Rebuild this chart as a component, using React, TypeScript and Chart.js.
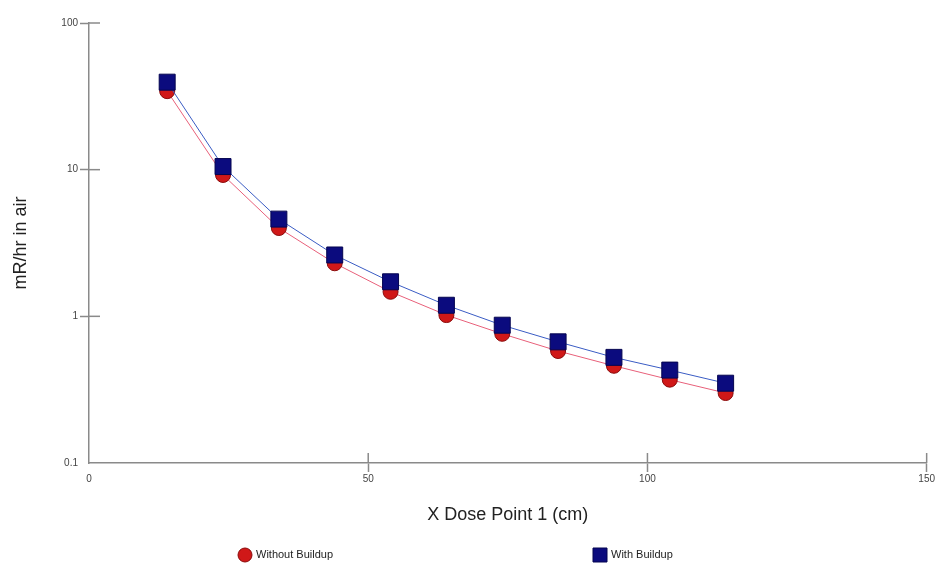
import React, { useEffect, useRef } from "react";
import { Chart, registerables } from "chart.js";

Chart.register(...registerables);

// ---- Data ----
const xPositions = [14, 24, 34, 44, 54, 64, 74, 84, 94, 104, 114];
const withoutBuildup = [34.3, 9.2, 4.0, 2.3, 1.47, 1.02, 0.76, 0.58, 0.46, 0.37, 0.3];
const withBuildup = [39.5, 10.5, 4.6, 2.62, 1.72, 1.19, 0.87, 0.67, 0.525, 0.43, 0.35];
const seriesLabels = ["Without Buildup", "With Buildup"];
const xTickValues = [0, 50, 100, 150];
const yTickValues = [0.1, 1, 10, 100];
const xTitle = "X Dose Point 1 (cm)";
const yTitle = "mR/hr in air";

// ---- Styles ----
const FONT = "'Liberation Sans', Arial, sans-serif";
const AXIS_COLOR = "#8a8a8a";
const RED_FILL = "#d01818";
const RED_EDGE = "#8a0a0a";
const RED_LINE = "#e8607a";
const BLUE_FILL = "#0b0b7e";
const BLUE_EDGE = "#050550";
const BLUE_LINE = "#3a5cc4";

const innerTicksPlugin = {
  id: "innerTicks",
  beforeDatasetsDraw(chart: any) {
    const { ctx, chartArea, scales } = chart;
    ctx.save();
    ctx.strokeStyle = AXIS_COLOR;
    ctx.lineWidth = 1.5;
    scales.x.ticks.forEach((t: any, i: number) => {
      if (i === 0) return;
      const px = scales.x.getPixelForValue(t.value);
      ctx.beginPath();
      ctx.moveTo(px, chartArea.bottom);
      ctx.lineTo(px, chartArea.bottom - 10);
      ctx.stroke();
    });
    scales.y.ticks.forEach((t: any, i: number) => {
      if (i === 0) return;
      const py = scales.y.getPixelForValue(t.value);
      ctx.beginPath();
      ctx.moveTo(chartArea.left, py);
      ctx.lineTo(chartArea.left + 11, py);
      ctx.stroke();
    });
    ctx.restore();
  },
};

const legendCentersX = [245, 600];
const legendY = 555;

const customLegendPlugin = {
  id: "customLegend",
  afterDraw(chart: any) {
    const { ctx } = chart;
    ctx.save();
    ctx.font = `11px ${FONT}`;
    ctx.textBaseline = "middle";
    ctx.textAlign = "left";
    chart.data.datasets.forEach((ds: any, i: number) => {
      const cx = legendCentersX[i];
      ctx.lineWidth = 1;
      ctx.fillStyle = ds.pointBackgroundColor;
      ctx.strokeStyle = ds.pointBorderColor;
      ctx.beginPath();
      if (ds.pointStyle === "circle") {
        ctx.arc(cx, legendY, 7, 0, Math.PI * 2);
      } else {
        ctx.rect(cx - 7, legendY - 7, 14, 14);
      }
      ctx.fill();
      ctx.stroke();
      ctx.fillStyle = "#222";
      ctx.fillText(ds.label, cx + 11, legendY);
    });
    ctx.restore();
  },
};

export default function App() {
  const canvasRef = useRef<HTMLCanvasElement | null>(null);

  useEffect(() => {
    document.body.style.margin = "0";
    const canvas = canvasRef.current;
    if (!canvas) return;

    const chart = new Chart(canvas, {
      type: "line",
      data: {
        datasets: [
          {
            label: seriesLabels[0],
            data: xPositions.map((x, i) => ({ x, y: withoutBuildup[i] })),
            borderColor: RED_LINE,
            borderWidth: 1,
            pointStyle: "circle",
            pointRadius: 7.5,
            pointBackgroundColor: RED_FILL,
            pointBorderColor: RED_EDGE,
            pointBorderWidth: 1,
            tension: 0,
            order: 1,
          },
          {
            label: seriesLabels[1],
            data: xPositions.map((x, i) => ({ x, y: withBuildup[i] })),
            borderColor: BLUE_LINE,
            borderWidth: 1,
            pointStyle: "rect",
            pointRadius: 11.3,
            pointBackgroundColor: BLUE_FILL,
            pointBorderColor: BLUE_EDGE,
            pointBorderWidth: 1,
            tension: 0,
            order: 0,
          },
        ],
      },
      options: {
        responsive: false,
        animation: false,
        layout: { autoPadding: false, padding: { top: 23, right: 9, bottom: 40, left: 0 } },
        plugins: {
          legend: { display: false },
          tooltip: { enabled: false },
        },
        scales: {
          x: {
            type: "linear",
            min: 0,
            max: 150,
            afterBuildTicks: (s: any) => {
              s.ticks = xTickValues.map((v) => ({ value: v }));
            },
            afterFit: (s: any) => {
              s.height = 66;
            },
            ticks: {
              font: { size: 10, family: FONT },
              color: "#444",
              padding: 1,
              maxRotation: 0,
              autoSkip: false,
            },
            grid: {
              drawOnChartArea: false,
              drawTicks: true,
              tickLength: 9,
              tickWidth: 1.5,
              tickColor: (c: any) => (c.index === 0 ? "rgba(0,0,0,0)" : AXIS_COLOR),
            },
            border: { color: AXIS_COLOR, width: 1.5 },
            title: {
              display: true,
              text: xTitle,
              font: { size: 18, family: FONT },
              color: "#222",
              padding: { top: 0, bottom: 3 },
            },
          },
          y: {
            type: "logarithmic",
            min: 0.1,
            max: 100,
            afterBuildTicks: (s: any) => {
              s.ticks = yTickValues.map((v) => ({ value: v, major: true }));
            },
            afterFit: (s: any) => {
              s.width = 89;
            },
            ticks: {
              font: { size: 10, family: FONT },
              color: "#444",
              padding: 2,
              autoSkip: false,
              callback: (v: any) => String(v),
            },
            grid: {
              drawOnChartArea: false,
              drawTicks: true,
              tickLength: 9,
              tickWidth: 1.5,
              tickColor: (c: any) => (c.index === 0 ? "rgba(0,0,0,0)" : AXIS_COLOR),
            },
            border: { color: AXIS_COLOR, width: 1.5 },
            title: {
              display: true,
              text: yTitle,
              font: { size: 18, family: FONT },
              color: "#222",
              padding: { top: 10, bottom: 0 },
            },
          },
        },
      },
      plugins: [innerTicksPlugin, customLegendPlugin],
    } as any);

    return () => chart.destroy();
  }, []);

  return (
    <div style={{ width: 936, height: 569, background: "#fff" }}>
      <canvas ref={canvasRef} width={936} height={569} />
    </div>
  );
}
